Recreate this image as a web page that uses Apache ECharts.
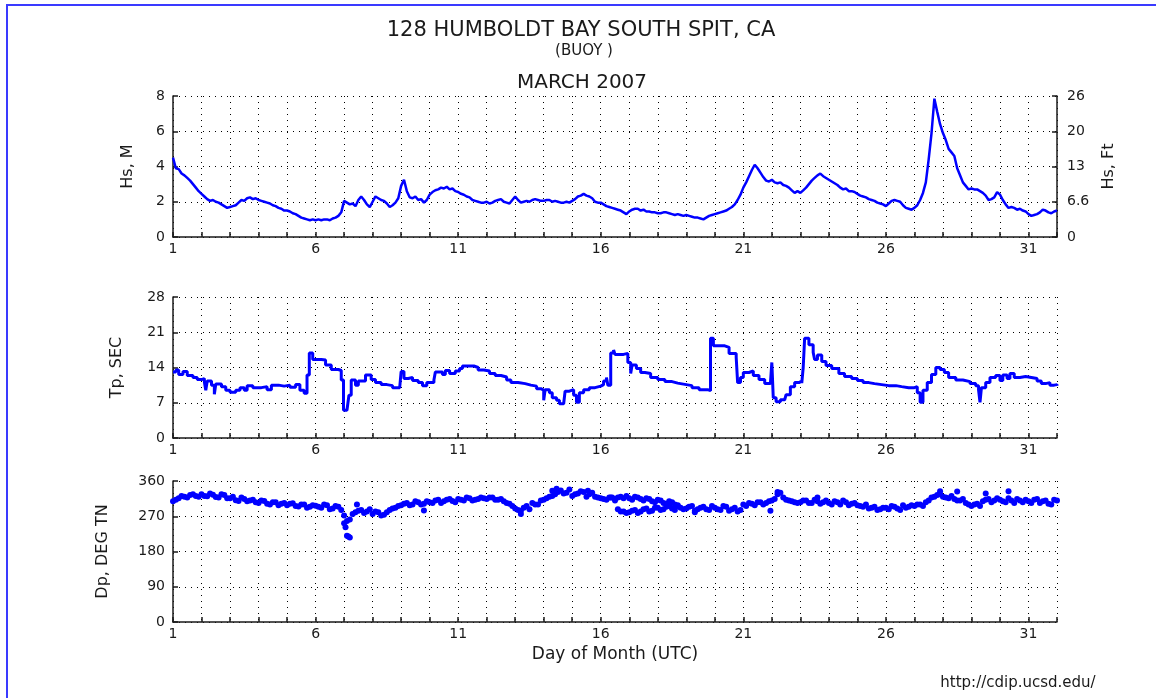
<!DOCTYPE html>
<html>
<head>
<meta charset="utf-8">
<title>128 Humboldt Bay South Spit - March 2007</title>
<script src="https://cdn.jsdelivr.net/npm/echarts@6/dist/echarts.min.js"></script>
<style>
  html, body { margin: 0; padding: 0; background: #fff; }
  #chart { width: 1156px; height: 698px; }
</style>
</head>
<body>
<div id="chart"></div>
<script>
// day-of-month tick labels (every day gets a tick and a dotted grid line)
const dayLabels = [1, 6, 11, 16, 21, 26, 31]
const hsFtLabels = ['0', '6.6', '13', '20', '26']

// Hs (m), one value every 0.1 day from day 1.0 to day 32.0
const HS_STEP = 0.1
const hsM = [
  4.5, 3.9, 3.85, 3.6, 3.5, 3.35, 3.2, 3.0, 2.8, 2.6,
  2.45, 2.3, 2.15, 2.05, 2.1, 2.0, 1.95, 1.85, 1.75, 1.65,
  1.7, 1.75, 1.8, 1.95, 2.1, 2.05, 2.2, 2.25, 2.15, 2.2,
  2.1, 2.05, 2.0, 1.95, 1.9, 1.8, 1.75, 1.65, 1.6, 1.5,
  1.5, 1.45, 1.35, 1.3, 1.2, 1.1, 1.05, 1.0, 0.95, 1.0,
  0.95, 1.0, 0.95, 1.0, 1.0, 0.95, 1.05, 1.1, 1.2, 1.4,
  2.05, 1.95, 1.85, 1.9, 1.75, 2.1, 2.3, 2.1, 1.85, 1.7,
  2.0, 2.3, 2.2, 2.1, 2.05, 1.9, 1.7, 1.8, 1.95, 2.2,
  2.9, 3.25, 2.6, 2.25, 2.2, 2.3, 2.1, 2.15, 1.95, 2.1,
  2.4, 2.55, 2.65, 2.7, 2.8, 2.75, 2.85, 2.7, 2.75, 2.6,
  2.55, 2.45, 2.4, 2.3, 2.25, 2.1, 2.05, 2.0, 1.95, 1.95,
  2.0, 1.9, 1.95, 2.05, 2.1, 2.15, 2.0, 1.95, 1.9, 2.1,
  2.3, 2.1, 1.95, 2.0, 2.05, 2.0, 2.1, 2.15, 2.1, 2.05,
  2.05, 2.1, 2.1, 2.0, 2.05, 2.0, 1.95, 1.95, 2.0, 1.95,
  2.05, 2.15, 2.3, 2.35, 2.45, 2.35, 2.3, 2.2, 2.0, 1.95,
  1.95, 1.85, 1.75, 1.7, 1.65, 1.6, 1.55, 1.5, 1.4, 1.3,
  1.45, 1.55, 1.6, 1.6, 1.5, 1.55, 1.45, 1.45, 1.4, 1.4,
  1.35, 1.35, 1.4, 1.4, 1.35, 1.3, 1.25, 1.3, 1.25, 1.2,
  1.25, 1.2, 1.15, 1.1, 1.1, 1.05, 1.0, 1.1, 1.2, 1.25,
  1.3, 1.35, 1.4, 1.45, 1.5, 1.6, 1.7, 1.85, 2.1, 2.4,
  2.8, 3.1, 3.45, 3.8, 4.1, 3.9, 3.65, 3.4, 3.2, 3.15,
  3.25, 3.1, 3.05, 3.1, 2.95, 2.9, 2.8, 2.65, 2.5, 2.6,
  2.5, 2.65, 2.8, 3.0, 3.2, 3.35, 3.5, 3.6, 3.45, 3.35,
  3.25, 3.15, 3.05, 2.95, 2.8, 2.7, 2.75, 2.6, 2.6, 2.55,
  2.45, 2.35, 2.3, 2.25, 2.15, 2.1, 2.05, 1.95, 1.9, 1.85,
  1.75, 1.9, 2.05, 2.1, 2.05, 2.0, 1.8, 1.65, 1.6, 1.55,
  1.65, 1.8, 2.1, 2.5, 3.1, 4.4, 5.9, 7.85, 7.1, 6.4,
  5.9, 5.5, 5.0, 4.8, 4.6, 3.9, 3.5, 3.1, 2.9, 2.7,
  2.75, 2.7, 2.7, 2.6, 2.5, 2.35, 2.1, 2.15, 2.25, 2.55,
  2.4, 2.1, 1.85, 1.65, 1.7, 1.65, 1.55, 1.6, 1.5, 1.45,
  1.3, 1.2, 1.25, 1.3, 1.4, 1.55, 1.5, 1.4, 1.35, 1.45,
  1.5
]

// Tp (sec), [day, value] at each change of the peak-period bin
const tpSec = [
  [1.0,13.1],[1.1,13.5],[1.2,12.6],[1.35,13.2],[1.5,12.4],[1.7,12.0],[1.85,11.6],[2.0,11.8],
  [2.1,11.1],[2.15,9.5],[2.2,11.3],[2.35,10.5],[2.45,8.7],[2.5,10.7],[2.7,10.2],[2.85,9.5],
  [3.0,9.1],[3.2,9.5],[3.35,10.0],[3.5,9.5],[3.6,10.4],[3.8,10.0],[4.1,10.2],[4.3,9.6],
  [4.45,10.5],[4.7,10.3],[4.9,10.5],[5.1,10.1],[5.3,10.6],[5.45,9.5],[5.6,8.9],[5.7,12.5],
  [5.78,16.9],[5.9,15.6],[6.2,15.5],[6.35,14.5],[6.55,13.6],[6.8,13.4],[6.9,11.5],[6.98,5.5],
  [7.1,5.2],[7.17,8.5],[7.25,11.5],[7.4,10.5],[7.5,11.3],[7.75,12.5],[7.95,11.6],[8.1,11.0],
  [8.3,10.6],[8.5,10.4],[8.7,10.0],[8.95,10.0],[9.0,13.2],[9.1,11.8],[9.25,12.0],[9.4,11.4],
  [9.6,11.0],[9.75,10.4],[9.9,11.0],[10.15,11.5],[10.2,13.1],[10.45,12.6],[10.55,13.4],[10.7,12.8],
  [10.9,13.3],[11.05,13.8],[11.15,14.3],[11.55,14.0],[11.7,13.5],[11.9,13.3],[12.1,12.8],[12.3,12.4],
  [12.5,12.1],[12.7,11.5],[12.85,11.0],[13.1,10.8],[13.35,10.5],[13.55,10.3],[13.75,9.8],[13.9,9.5],
  [14.0,7.5],[14.05,9.6],[14.2,9.0],[14.3,8.0],[14.45,7.5],[14.55,6.8],[14.7,6.6],[14.75,9.3],
  [14.9,9.6],[15.05,8.5],[15.15,7.1],[15.25,9.0],[15.4,9.6],[15.6,10.0],[15.8,10.3],[16.0,10.6],
  [16.1,11.3],[16.2,12.0],[16.25,10.5],[16.35,16.9],[16.45,17.5],[16.5,16.6],[16.8,16.8],[16.95,15.0],
  [17.05,12.8],[17.1,14.5],[17.25,13.8],[17.4,13.0],[17.55,12.8],[17.75,12.0],[18.0,11.6],[18.25,11.2],
  [18.5,10.9],[18.7,10.6],[19.0,10.4],[19.2,10.0],[19.45,9.6],[19.75,9.4],[19.85,19.8],[19.95,18.3],
  [20.35,18.0],[20.5,16.8],[20.75,16.0],[20.8,11.0],[20.9,12.0],[21.0,13.0],[21.2,13.3],[21.35,12.4],
  [21.55,11.6],[21.75,10.8],[21.95,10.5],[22.0,15.0],[22.05,8.0],[22.15,7.2],[22.3,7.6],[22.45,7.4],
  [22.5,8.6],[22.65,10.2],[22.8,11.0],[22.95,11.3],[23.05,10.9],[23.1,14.0],[23.15,19.8],[23.3,18.5],
  [23.45,17.0],[23.5,15.6],[23.6,16.5],[23.75,15.2],[23.9,14.4],[24.1,13.8],[24.35,12.8],[24.55,12.2],
  [24.8,11.8],[25.0,11.4],[25.2,11.0],[25.4,10.8],[25.6,10.6],[25.85,10.4],[26.1,10.4],[26.35,10.2],
  [26.55,10.0],[26.8,10.0],[27.0,10.2],[27.1,9.0],[27.2,7.1],[27.3,9.5],[27.45,11.0],[27.6,12.6],
  [27.75,14.0],[27.9,13.6],[28.05,13.0],[28.2,12.0],[28.45,11.5],[28.7,11.2],[28.95,10.8],[29.15,10.4],
  [29.25,9.5],[29.3,7.1],[29.35,10.0],[29.5,11.0],[29.65,12.0],[29.85,12.4],[30.0,11.4],[30.1,12.5],
  [30.25,11.8],[30.35,12.8],[30.5,12.0],[30.7,12.2],[30.9,12.0],[31.1,11.8],[31.3,11.3],[31.45,10.8],
  [31.6,11.0],[31.75,10.5],[31.9,10.6],[32.0,10.4]
]

// Dp (deg true), one value every 0.2 day from day 1.0 to day 32.0
const DP_STEP = 0.2
const dpDeg = [
  308, 316, 320, 324, 322,
  326, 321, 325, 318, 324,
  316, 311, 318, 308, 312,
  304, 309, 300, 306, 302,
  298, 303, 295, 300, 294,
  297, 292, 298, 290, 294,
  272, 262, 280, 286, 282,
  276, 280, 274, 286, 292,
  298, 304, 300, 306, 302,
  306, 310, 304, 312, 309,
  314, 310, 316, 312, 318,
  314, 318, 312, 308, 302,
  290, 284, 296, 304, 300,
  312, 320, 326, 336, 330,
  322, 328, 332, 326, 320,
  316, 312, 318, 288, 282,
  280, 286, 282, 290, 284,
  292, 288, 296, 286, 292,
  290, 296, 288, 294, 286,
  292, 286, 294, 288, 282,
  300, 304, 298, 306, 304,
  310, 326, 318, 310, 306,
  306, 310, 304, 308, 306,
  304, 308, 300, 306, 302,
  298, 294, 290, 294, 288,
  292, 296, 290, 298, 294,
  296, 300, 306, 318, 324,
  320, 316, 314, 310, 304,
  296, 302, 308, 314, 310,
  312, 306, 310, 314, 306,
  308, 312, 304, 310, 300,
  310
]
// Dp readings in between, every 0.2 day from day 1.1 to day 31.9
const dpDegMid = [
  312, 322, 318, 326, 320,
  322, 328, 319, 326, 316,
  320, 309, 314, 310, 306,
  310, 302, 306, 298, 304,
  302, 296, 300, 292, 298,
  294, 300, 288, 296, 286,
  258, 276, 284, 278, 288,
  282, 272, 280, 290, 296,
  302, 298, 308, 300, 308,
  304, 312, 308, 314, 306,
  312, 318, 310, 314, 316,
  318, 312, 314, 304, 296,
  286, 292, 288, 300, 310,
  316, 322, 332, 328, 338,
  326, 334, 320, 330, 318,
  314, 318, 310, 282, 278,
  284, 278, 288, 282, 292,
  286, 294, 290, 296, 288,
  294, 284, 292, 288, 296,
  288, 296, 284, 292, 286,
  296, 302, 306, 300, 308,
  314, 330, 312, 308, 304,
  310, 304, 312, 302, 310,
  300, 306, 310, 298, 304,
  296, 300, 292, 286, 292,
  288, 294, 286, 292, 298,
  300, 296, 310, 320, 326,
  318, 322, 310, 314, 300,
  300, 296, 312, 306, 316,
  308, 316, 304, 310, 312,
  304, 314, 308, 302, 312
]
// second (upper) Dp band around days 16-19, and scattered outliers
const dpUpper = [
  [16.5,314],[16.6,318],[16.7,320],[16.8,316],[16.9,322],[17.0,316],[17.1,312],[17.2,320],
  [17.3,318],[17.4,314],[17.5,310],[17.6,316],[17.7,314],[17.8,308],[17.9,306],[18.0,312],
  [18.1,310],[18.2,304],[18.3,302],[18.4,308],[18.5,306],[18.6,300],[18.7,298]
]
const dpOutliers = [
  [7.0,252],[7.05,242],[7.1,220],[7.15,218],[7.2,216],[7.45,300],[9.8,285],[13.2,276],
  [14.3,335],[14.45,340],[15.55,335],[16.35,318],[19.3,280],[21.95,284],[22.2,332],
  [23.6,318],[27.9,334],[28.5,333],[29.5,328],[30.3,334]
]

const BLUE = '#0000ff'
const INK = '#1a1a1a'
const FONT = 'DejaVu Sans'

const chart = echarts.init(document.getElementById('chart'))

const grids = [
  { left: 173, top: 96, width: 884, height: 141 },
  { left: 173, top: 297, width: 884, height: 141 },
  { left: 173, top: 481, width: 884, height: 141 }
]

const dotted = { show: true, lineStyle: { color: '#000', type: [1, 5], width: 1 } }

function xAxisFor(i) {
  return {
    gridIndex: i,
    type: 'value',
    min: 1,
    max: 32,
    interval: 1,
    name: i === 2 ? 'Day of Month (UTC)' : '',
    nameLocation: 'middle',
    nameGap: 24,
    nameTextStyle: { fontSize: 17, color: INK, fontFamily: FONT },
    axisLine: { onZero: false, lineStyle: { color: INK, width: 1.5 } },
    axisTick: { inside: true, length: 5, lineStyle: { color: INK, width: 1.5 } },
    axisLabel: {
      margin: 5, fontSize: 14, color: INK, fontFamily: FONT,
      formatter: v => dayLabels.includes(v) ? String(v) : ''
    },
    splitLine: dotted
  }
}

function yAxisFor(i, opts) {
  return Object.assign({
    gridIndex: i,
    type: 'value',
    nameLocation: 'middle',
    nameRotate: 90,
    nameTextStyle: { fontSize: 16, color: INK, fontFamily: FONT },
    axisLine: { show: true, lineStyle: { color: INK, width: 1.5 } },
    axisTick: { show: true, inside: true, length: 5, lineStyle: { color: INK, width: 1.5 } },
    axisLabel: { margin: 8, fontSize: 14, color: INK, fontFamily: FONT },
    splitLine: dotted
  }, opts)
}

const dpPoints = dpDeg.map((v, i) => [1 + i * DP_STEP, v])
  .concat(dpDegMid.map((v, i) => [1.1 + i * DP_STEP, v]), dpUpper, dpOutliers)

const option = {
  animation: false,
  backgroundColor: '#fff',
  textStyle: { fontFamily: FONT },
  grid: grids,
  xAxis: [xAxisFor(0), xAxisFor(1), xAxisFor(2)],
  yAxis: [
    yAxisFor(0, { min: 0, max: 8, interval: 2, name: 'Hs, M', nameGap: 37 }),
    yAxisFor(0, {
      position: 'right', min: 0, max: 8, interval: 2, name: 'Hs, Ft', nameGap: 44,
      splitLine: { show: false },
      axisLabel: {
        margin: 10, fontSize: 14, color: INK, fontFamily: FONT,
        formatter: v => hsFtLabels[v / 2]
      }
    }),
    yAxisFor(1, { min: 0, max: 28, interval: 7, name: 'Tp, SEC', nameGap: 48 }),
    yAxisFor(2, { min: 0, max: 360, interval: 90, name: 'Dp, DEG TN', nameGap: 62 })
  ],
  series: [
    {
      name: 'Hs',
      type: 'line',
      xAxisIndex: 0,
      yAxisIndex: 0,
      showSymbol: false,
      lineStyle: { color: BLUE, width: 2.5 },
      data: hsM.map((v, i) => [1 + i * HS_STEP, v])
    },
    {
      name: 'Tp',
      type: 'line',
      xAxisIndex: 1,
      yAxisIndex: 2,
      step: 'end',
      showSymbol: false,
      lineStyle: { color: BLUE, width: 3 },
      data: tpSec
    },
    {
      name: 'Dp',
      type: 'scatter',
      xAxisIndex: 2,
      yAxisIndex: 3,
      symbol: 'circle',
      symbolSize: 6,
      itemStyle: { color: BLUE, opacity: 1 },
      data: dpPoints
    }
  ],
  graphic: [
    // frame edges
    { type: 'polyline', silent: true, shape: { points: [[7, 698], [7, 5], [1156, 5]] },
      style: { stroke: '#3a3aff', lineWidth: 2, fill: null } },
    { type: 'text', x: 581, y: 31, silent: true,
      style: { text: '128 HUMBOLDT BAY SOUTH SPIT, CA', fontSize: 21, fontFamily: FONT, fill: INK,
        textAlign: 'center', textVerticalAlign: 'middle' } },
    { type: 'text', x: 584, y: 51, silent: true,
      style: { text: '(BUOY )', fontSize: 15, fontFamily: FONT, fill: INK,
        textAlign: 'center', textVerticalAlign: 'middle' } },
    { type: 'text', x: 582, y: 83, silent: true,
      style: { text: 'MARCH 2007', fontSize: 20, fontFamily: FONT, fill: INK,
        textAlign: 'center', textVerticalAlign: 'middle' } },
    { type: 'text', x: 1018, y: 683, silent: true,
      style: { text: 'http://cdip.ucsd.edu/', fontSize: 15, fontFamily: FONT, fill: INK,
        textAlign: 'center', textVerticalAlign: 'middle' } }
  ]
}

chart.setOption(option)
</script>
</body>
</html>
